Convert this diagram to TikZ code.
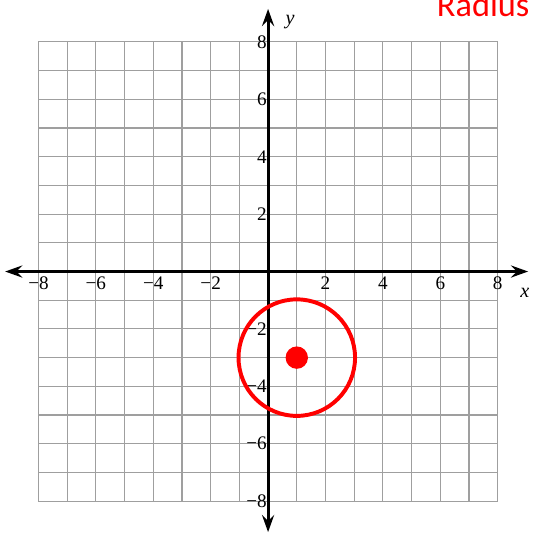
\documentclass[tikz,border=0pt]{standalone}
\usepackage{fontspec}
\setmainfont{Liberation Serif}
\newfontfamily\notefont{Carlito}
\usetikzlibrary{arrows.meta}
\tikzset{
  gridline/.style={gray!75, line width=1.1pt},
  axisline/.style={<->, line width=3pt},
  ticklabel/.style={inner sep=0pt, font=\fontsize{19}{22}\selectfont},
  redmark/.style={red, line width=3.9pt}
}
\begin{document}
\begin{tikzpicture}[>={Stealth[length=17pt,width=12pt,inset=6pt]}, thick]
    \useasboundingbox (-9.34,-9.11) rectangle (9.23,9.46);
    % Grid
    \draw[gridline] (-8,-8) grid (8,8);

    % Axes
    \coordinate (xleft) at (-9.16,0);
    \coordinate (xright) at (9.06,0);
    \coordinate (ydown) at (0,-9.08);
    \coordinate (yup) at (0,9.15);
    \draw[axisline] (xleft) -- (xright);
    \draw[axisline] (ydown) -- (yup);
    \node[font=\fontsize{20}{24}\selectfont\itshape] (xname) at (8.95,-0.75) {x};
    \node[font=\fontsize{20}{24}\selectfont\itshape] (yname) at (0.77,8.69) {y};

    % Tick labels
    \foreach \k/\t in {-8/−8,-6/−6,-4/−4,-2/−2,2/2,4/4,6/6,8/8} {
        \node[ticklabel, anchor=north] (xt\k) at (\k,-0.17) {\t};
        \node[ticklabel, anchor=east] (yt\k) at (-0.03,\k) {\t};
    }

    % Circle and centre
    \draw[redmark] (1,-3) circle (2.03);
    \fill[red] (1,-3) circle (0.39);

    % Note
    \node[red, anchor=base west, inner sep=0pt, font=\notefont\fontsize{34}{40}\selectfont] (note) at (5.87,8.885) {Radius};
\end{tikzpicture}
\end{document}
